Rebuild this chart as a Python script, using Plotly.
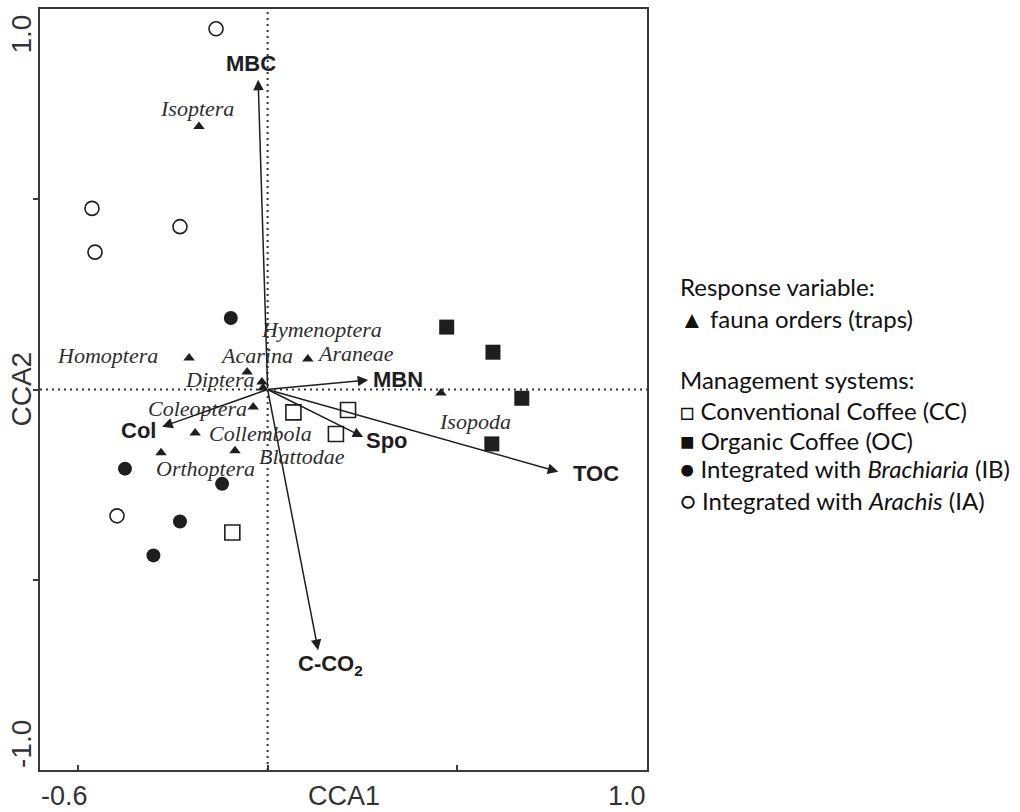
import plotly.graph_objects as go

# ---------------- data ----------------
# Management systems (site scores)
cc_x = [-0.093, 0.068, 0.212, 0.180]
cc_y = [-0.376, -0.060, -0.054, -0.117]
oc_x = [0.472, 0.594, 0.670, 0.591]
oc_y = [0.164, 0.098, -0.023, -0.143]
ib_x = [-0.097, -0.376, -0.120, -0.231, -0.301]
ib_y = [0.188, -0.208, -0.248, -0.347, -0.436]
ia_x = [-0.136, -0.463, -0.231, -0.455, -0.397]
ia_y = [0.948, 0.476, 0.428, 0.361, -0.332]

# Fauna orders (species scores)
fauna_names = ["Isoptera", "Homoptera", "Acarina", "Diptera", "Hymenoptera",
               "Coleoptera", "Collembola", "Orthoptera", "Blattodae",
               "Araneae", "Isopoda"]
fauna_x = [-0.181, -0.207, -0.054, -0.015, -0.012, -0.038, -0.191, -0.281,
           -0.086, 0.106, 0.457]
fauna_y = [0.691, 0.083, 0.046, 0.020, 0.004, -0.046, -0.114, -0.166,
           -0.161, 0.080, -0.009]

# Environmental variables (arrow tips)
env_names = ["MBC", "MBN", "Spo", "TOC", "Col", "C-CO<sub>2</sub>"]
env_x = [-0.025, 0.265, 0.252, 0.766, -0.278, 0.133]
env_y = [0.814, 0.025, -0.125, -0.216, -0.098, -0.685]

# Axis tick labels (only the extremes are labelled)
x_range = [-0.6, 1.0]
y_range = [-1.0, 1.0]
x_tick_marks = [-0.5, 0.0, 0.5]
y_tick_marks = [-0.5, 0.0, 0.5]
x_tick_text = ["-0.6", "1.0"]
y_tick_text = ["-1.0", "1.0"]

legend_lines = [
    "Response variable:",
    "▲ fauna orders (traps)",
    "Management systems:",
    "□ Conventional Coffee (CC)",
    "■ Organic Coffee (OC)",
    "● Integrated with <i>Brachiaria</i> (IB)",
    "○ Integrated with <i>Arachis</i> (IA)",
]

# ---------------- layout / style (pixel based) ----------------
W, H = 1020, 812
L, R, T, B = 40, 647, 7, 770  # plot frame in pixels

fauna_label_shift = {  # (dx, dy) pixels, dy up positive
    "Isoptera": (-2, 18), "Homoptera": (-82, 2), "Acarina": (9, 17),
    "Diptera": (-42, 2), "Hymenoptera": (58, 58), "Coleoptera": (-56, -1),
    "Collembola": (65, -1), "Orthoptera": (44, -16), "Blattodae": (67, -6),
    "Araneae": (48, 6), "Isopoda": (34, -29),
}
env_label_shift = [(-7, 16), (30, 0), (24, -3), (38, -2), (-24, -4), (12, -15)]

INK = "#1e1e1e"
fig = go.Figure()

fig.add_trace(go.Scatter(x=ia_x, y=ia_y, mode="markers", hoverinfo="skip",
                         marker=dict(symbol="circle-open", size=14,
                                     line=dict(width=1.6, color=INK), color=INK)))
fig.add_trace(go.Scatter(x=ib_x, y=ib_y, mode="markers", hoverinfo="skip",
                         marker=dict(symbol="circle", size=14, color=INK)))
fig.add_trace(go.Scatter(x=cc_x, y=cc_y, mode="markers", hoverinfo="skip",
                         marker=dict(symbol="square-open", size=15,
                                     line=dict(width=1.6, color=INK), color=INK)))
fig.add_trace(go.Scatter(x=oc_x, y=oc_y, mode="markers", hoverinfo="skip",
                         marker=dict(symbol="square", size=15, color=INK)))
fig.add_trace(go.Scatter(x=fauna_x, y=fauna_y, mode="markers", hoverinfo="skip",
                         marker=dict(symbol="triangle-up", size=10, color=INK)))

# dotted zero lines
fig.add_shape(type="line", x0=0, x1=0, y0=y_range[0], y1=y_range[1],
              xref="x", yref="y", line=dict(color="#333", width=2, dash="2px,4px"))
fig.add_shape(type="line", x0=x_range[0], x1=x_range[1], y0=0, y1=0,
              xref="x", yref="y", line=dict(color="#333", width=2, dash="2px,4px"))

annotations = []
# environmental arrows
for name, ex, ey, (dx, dy) in zip(env_names, env_x, env_y, env_label_shift):
    annotations.append(dict(x=ex, y=ey, ax=0, ay=0, xref="x", yref="y",
                            axref="x", ayref="y", text="", showarrow=True,
                            arrowhead=2, arrowsize=1.4, arrowwidth=1.5,
                            arrowcolor=INK, standoff=0, startstandoff=0))
    annotations.append(dict(x=ex, y=ey, xref="x", yref="y", text="<b>%s</b>" % name,
                            showarrow=False, xshift=dx, yshift=dy,
                            font=dict(family="Liberation Sans", size=22, color=INK)))
# fauna labels
for name, fx, fy in zip(fauna_names, fauna_x, fauna_y):
    dx, dy = fauna_label_shift[name]
    annotations.append(dict(x=fx, y=fy, xref="x", yref="y", text="<i>%s</i>" % name,
                            showarrow=False, xshift=dx, yshift=dy,
                            font=dict(family="Liberation Serif", size=22, color="#2e2e2e")))

axis_font = dict(family="Liberation Sans", size=28, color="#333")
bottom_font = dict(family="Liberation Sans", size=27, color="#333")
# x tick labels at axis ends
annotations.append(dict(x=x_range[0], y=y_range[0], xref="x", yref="y",
                        text=x_tick_text[0], showarrow=False, xanchor="left",
                        yanchor="middle", yshift=-26, borderpad=0, font=bottom_font))
annotations.append(dict(x=x_range[1], y=y_range[0], xref="x", yref="y",
                        text=x_tick_text[1], showarrow=False, xanchor="right",
                        yanchor="middle", yshift=-26, borderpad=0, font=bottom_font))
# y tick labels (rotated)
annotations.append(dict(x=x_range[0], y=y_range[0], xref="x", yref="y",
                        text=y_tick_text[0], showarrow=False, textangle=-90,
                        xanchor="center", yanchor="bottom", xshift=-19, font=axis_font))
annotations.append(dict(x=x_range[0], y=y_range[1], xref="x", yref="y",
                        text=y_tick_text[1], showarrow=False, textangle=-90,
                        xanchor="center", yanchor="top", xshift=-19, yshift=-4,
                        font=axis_font))
# axis titles
annotations.append(dict(x=0.5, y=y_range[0], xref="paper", yref="y", text="CCA1",
                        showarrow=False, yanchor="middle", yshift=-26, borderpad=0,
                        font=bottom_font))
annotations.append(dict(x=x_range[0], y=0.5, xref="x", yref="paper", text="CCA2",
                        showarrow=False, textangle=-90, xshift=-19, font=axis_font))

# legend text block on the right
legend_y_px = [285, 317, 378, 410, 440, 468, 500]
for txt, py in zip(legend_lines, legend_y_px):
    annotations.append(dict(x=(678 - L) / (R - L), y=(B - py) / (B - T),
                            xref="paper", yref="paper", text=txt, showarrow=False,
                            xanchor="left", yanchor="middle",
                            font=dict(family="Lato", size=24, color="#111")))

axis_common = dict(showgrid=False, zeroline=False, showline=True, mirror=True,
                   linecolor="#3a3a3a", linewidth=2, showticklabels=False,
                   ticklen=5, tickwidth=1.5, tickcolor="#3a3a3a")
fig.update_layout(
    width=W, height=H,
    margin=dict(l=L, r=W - R, t=T, b=H - B),
    paper_bgcolor="white", plot_bgcolor="white",
    showlegend=False,
    xaxis=dict(range=x_range, tickvals=x_tick_marks, ticks="inside", **axis_common),
    yaxis=dict(range=y_range, tickvals=y_tick_marks, ticks="outside", **axis_common),
    annotations=annotations,
)

fig.write_html("out.html", config={"displayModeBar": False},
               post_script="document.body.style.margin='0';document.body.style.overflow='hidden';")
